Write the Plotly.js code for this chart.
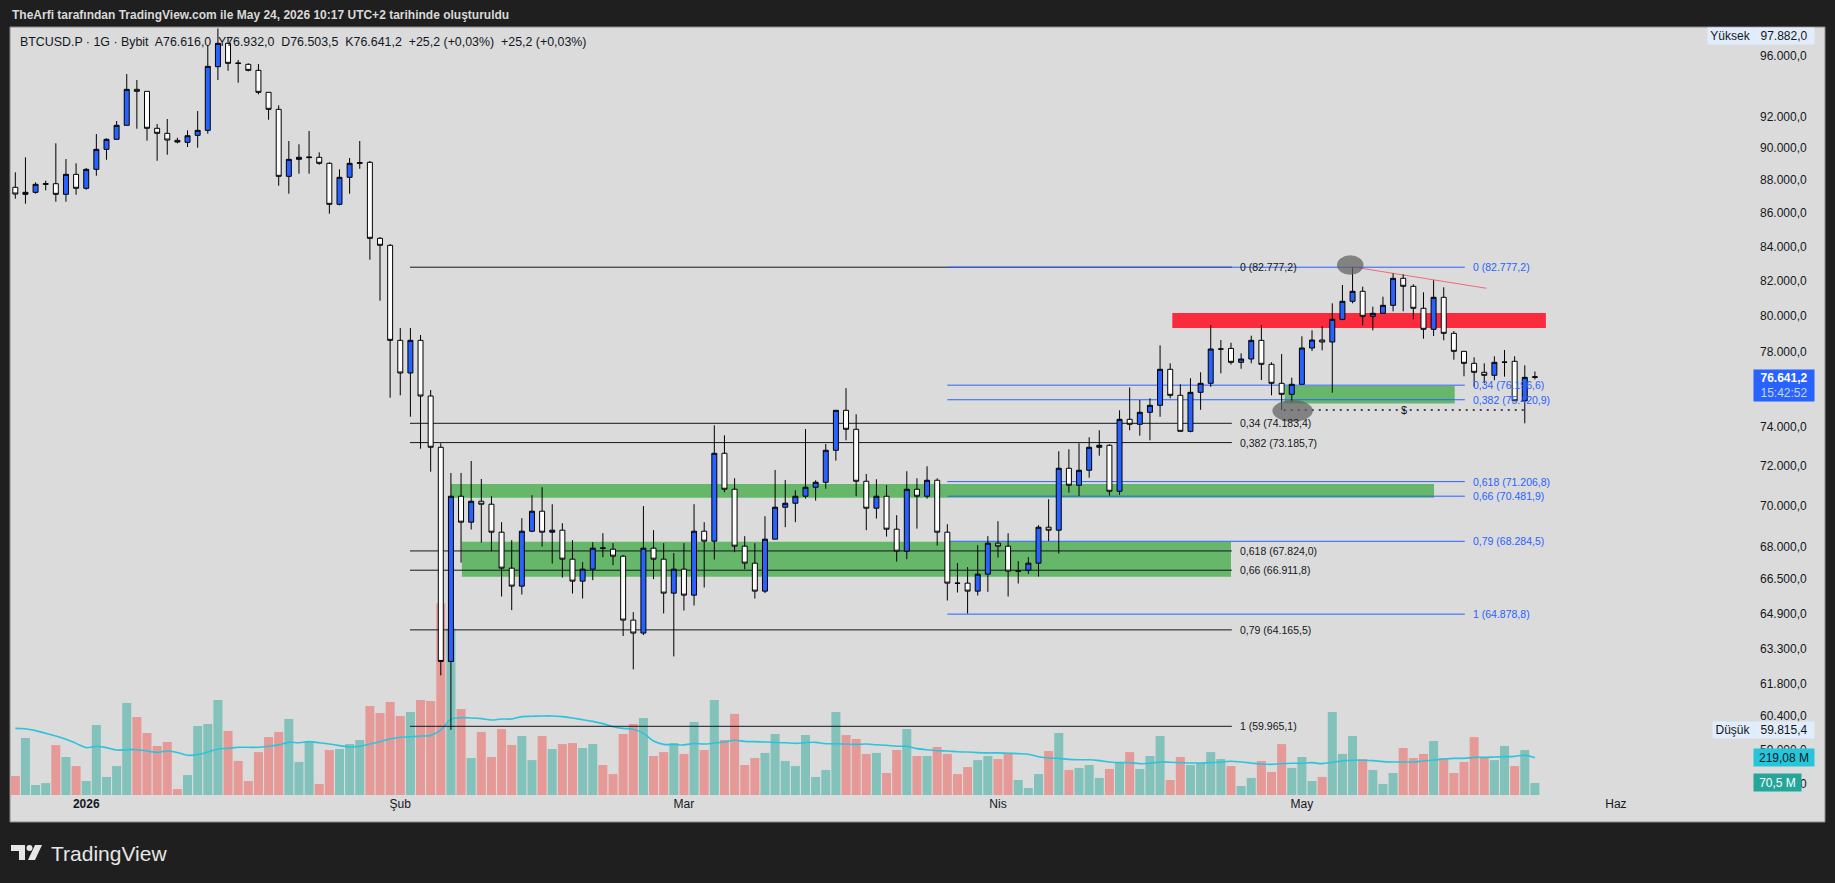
<!DOCTYPE html>
<html><head><meta charset="utf-8">
<script src="https://cdn.plot.ly/plotly-3.0.1.min.js"></script>
<style>html,body{margin:0;padding:0;background:#1f1f1f;overflow:hidden}#chart{width:1835px;height:883px}</style>
</head><body><div id="chart"></div>
<script>
// ---------------- DATA ----------------
const dates = [
'2025-12-25','2025-12-26','2025-12-27','2025-12-28','2025-12-29','2025-12-30','2025-12-31',
'2026-01-01','2026-01-02','2026-01-03','2026-01-04','2026-01-05','2026-01-06','2026-01-07','2026-01-08','2026-01-09','2026-01-10',
'2026-01-11','2026-01-12','2026-01-13','2026-01-14','2026-01-15','2026-01-16','2026-01-17','2026-01-18','2026-01-19','2026-01-20',
'2026-01-21','2026-01-22','2026-01-23','2026-01-24','2026-01-25','2026-01-26','2026-01-27','2026-01-28','2026-01-29','2026-01-30','2026-01-31',
'2026-02-01','2026-02-02','2026-02-03','2026-02-04','2026-02-05','2026-02-06','2026-02-07','2026-02-08','2026-02-09','2026-02-10',
'2026-02-11','2026-02-12','2026-02-13','2026-02-14','2026-02-15','2026-02-16','2026-02-17','2026-02-18','2026-02-19','2026-02-20',
'2026-02-21','2026-02-22','2026-02-23','2026-02-24','2026-02-25','2026-02-26','2026-02-27','2026-02-28',
'2026-03-01','2026-03-02','2026-03-03','2026-03-04','2026-03-05','2026-03-06','2026-03-07','2026-03-08','2026-03-09','2026-03-10',
'2026-03-11','2026-03-12','2026-03-13','2026-03-14','2026-03-15','2026-03-16','2026-03-17','2026-03-18','2026-03-19','2026-03-20',
'2026-03-21','2026-03-22','2026-03-23','2026-03-24','2026-03-25','2026-03-26','2026-03-27','2026-03-28','2026-03-29','2026-03-30','2026-03-31',
'2026-04-01','2026-04-02','2026-04-03','2026-04-04','2026-04-05','2026-04-06','2026-04-07','2026-04-08','2026-04-09','2026-04-10',
'2026-04-11','2026-04-12','2026-04-13','2026-04-14','2026-04-15','2026-04-16','2026-04-17','2026-04-18','2026-04-19','2026-04-20',
'2026-04-21','2026-04-22','2026-04-23','2026-04-24','2026-04-25','2026-04-26','2026-04-27','2026-04-28','2026-04-29','2026-04-30',
'2026-05-01','2026-05-02','2026-05-03','2026-05-04','2026-05-05','2026-05-06','2026-05-07','2026-05-08','2026-05-09','2026-05-10',
'2026-05-11','2026-05-12','2026-05-13','2026-05-14','2026-05-15','2026-05-16','2026-05-17','2026-05-18','2026-05-19','2026-05-20',
'2026-05-21','2026-05-22','2026-05-23','2026-05-24'];

const openP = [87555,87125,87247,87740,87776,87125,88357,
87494,88667,89922,90556,91451,93791,93659,91259,90938,90490,
90365,90810,91129,95293,96870,95540,95452,95050,93594,92483,
88233,89292,89400,89419,89042,86515,88172,89042,89105,84474,84060,
78634,76850,78634,75618,72945,62759,70480,69206,70233,70085,
68722,67008,66168,68770,69742,68722,68819,67433,66400,66961,
67960,67908,67574,64608,64022,67955,67433,65843,
66961,65751,68770,68290,72638,70826,68051,67244,65936,68386,
69938,70134,70480,70926,71175,72791,74863,73872,71225,69889,
70480,68867,67812,70826,70480,71275,68722,66307,66307,65936,66727,
68194,68051,66868,66915,67244,68963,68819,71877,71025,71776,
72945,73047,70727,74391,74131,74758,75127,77051,75656,73767,
75815,76296,78150,78190,77429,77610,78634,77321,76296,75709,
76243,78211,78651,78541,79803,80819,81388,79971,80140,80592,
82134,81675,80423,79245,81046,79022,78029,77375,76888,76726,
77429,77484,75366,76616.0];

const highP = [88481,89419,87862,87962,90302,89311,89042,
88748,90893,90618,91727,94805,94405,93659,91534,91856,90657,
91129,92373,96754,97882,97300,95741,95519,95472,93594,92744,
90448,90239,91085,89733,89105,88667,89374,90448,89186,84551,84136,
79317,79317,78929,75938,73149,71641,71641,72246,71339,70480,
69206,68338,69400,70529,70926,70085,69157,68338,67291,68242,
68674,68194,67622,64972,69993,68819,68194,67717,
68194,70085,69206,74079,73561,71374,68530,68194,69496,71792,
71290,70777,73885,71275,73113,74863,76040,74655,71591,71325,
71026,69547,71727,71374,71978,71374,69108,67244,67055,68098,68530,
69254,68674,67338,67527,69060,70331,72740,72842,73149,73459,
73821,73098,74863,76077,75408,75497,78359,77375,76243,76567,
76888,79484,78651,78502,77920,78889,79484,77429,77882,76600,
78856,79190,79412,80705,81749,82777.2,81652,80513,81080,82423,
82365,81790,81331,82020,81617,79150,78046,77701,77375,77756,
78102,77756,77267,76932.0];

const lowP = [86856,86552,87162,87370,86673,86673,87100,
87407,88270,89267,90556,91451,91232,90467,89205,89582,90302,
90068,90023,90913,94405,95022,94227,94985,93462,91811,87653,
87162,88394,88394,88955,85946,86455,87162,88705,83214,80853,75529,
75656,74527,72871,71706,62145,59815.4,67272,68848,68223,67812,
65686,65062,65778,68722,68031,67225,66568,65825,65594,66447,
67527,67150,63888,62409,63932,66493,64908,62981,
65045,65273,66103,67414,70678,67765,66961,65594,65843,68386,
68963,69206,70360,70262,70856,72262,73303,70480,68819,69383,
68511,67320,67433,68896,70360,68079,65502,65871,64908,65732,65903,
67508,65686,66288,66741,66615,68290,67698,70658,70494,71405,
72516,70513,70544,73821,73541,73303,74527,75497,73767,73715,
74889,76110,76834,77305,77082,77375,76473,75656,74880,75300,
76243,78046,78085,75794,79750,80705,79467,79189,80140,80253,
80253,79803,78723,78870,78634,77570,76672,76110,76296,76457,
76654,75366,74183,76503.5];

const closeP = [87143,87247,87740,87776,87125,88357,87494,
88667,89922,90556,91451,93791,93659,91259,90938,90511,90384,
90784,91129,95318,96870,95519,95519,95050,93594,92483,88233,
89292,89419,89430,89042,86515,88172,89042,89080,84474,84060,78634,
76850,78634,75618,72945,62759,70480,69206,70233,70085,68722,
67008,66168,68770,69742,68722,68819,67433,66400,66961,67955,
67955,67574,64608,64022,67955,67433,65843,66961,
65751,68770,68290,72638,70826,68051,67244,65936,68386,69938,
70134,70480,70926,71175,72791,74863,73872,71225,69889,70480,
68867,67812,70826,70480,71275,68722,66307,66300,65936,66727,68194,
68051,66868,66880,67244,68963,68819,71877,71025,71776,72945,
73047,70727,74391,74131,74758,75127,77051,75656,73767,75815,
76296,78157,78157,77429,77610,78634,77321,76296,75709,76243,
78211,78651,78541,79803,80819,81388,79971,80140,80592,82134,
81675,80423,79245,81046,79022,78029,77375,76888,76726,77429,
77440,75366,76616,76641.2];

// volume in millions
const volumeM = [111.5,334.6,58.7,70,293,223,170,
82,411,106,170,540,458,364,288,311,35,
117,405,417,558,376,200,82,252,340,370,
446,194,317,65,264,270,299,323,523,481,546,
464,487,558,552,1125,978,505,217,370,223,
387,294,346,205,346,270,299,305,276,299,
176,123,358,417,452,229,252,305,
241,429,264,558,323,476,176,217,247,358,
200,170,352,106,147,487,352,329,241,247,
129,264,387,229,229,282,241,123,164,205,229,
211,247,88,41,123,258,364,147,159,176,
100,153,188,252,153,229,346,88,223,176,
188,252,211,170,53,100,200,135,299,159,
223,82,106,487,241,346,211,147,65,129,
276,217,241,317,217,129,194,340,223,205,
288,170,264,70.5];

// volume moving average (millions)
const volumeMA_M = [391,389,378,362,346,327,303,
278,286,278,264,266,266,258,250,258,249,
233,237,252,270,274,280,280,280,286,294,
309,307,313,307,299,290,282,286,299,313,329,
339,341,346,350,382,444,454,452,448,440,
446,446,460,462,464,464,460,452,442,432,
419,401,391,386,362,317,297,296,
294,303,299,305,311,321,315,313,311,309,
307,303,307,309,301,301,299,297,299,295,
292,286,286,272,266,260,258,254,252,249,247,
247,245,243,239,225,217,215,209,207,207,
202,194,190,190,184,186,194,192,190,188,
188,190,194,198,194,188,182,180,184,186,
186,190,184,192,200,204,204,202,196,194,
194,194,200,205,211,215,215,221,221,223,
225,227,233,219.08];

const xTickVals = ['2026-01-01','2026-02-01','2026-03-01','2026-04-01','2026-05-01','2026-06-01'];
const xTickText = ['<b>2026</b>','Şub','Mar','Nis','May','Haz'];
const priceTicks = [96000,92000,90000,88000,86000,84000,82000,80000,78000,74000,72000,70000,68000,66500,64900,63300,61800,60400,59000,57600];

// Fibonacci drawings (log-scale retracements)
const fibLevels = [0,0.34,0.382,0.618,0.66,0.79,1];
const blackFibPrices = [82777.2,74183.4,73185.7,67824.0,66911.8,64165.5,59965.1];
const blueFibPrices = [82777.2,76196.6,75420.9,71206.8,70481.9,68284.5,64878.8];
const blackFibSpan = ['2026-02-01 23:00','2026-04-24 02:00'];
const blueFibSpan = ['2026-03-27 00:00','2026-05-17 02:00'];

// zones [startDate, endDate, upperPrice, lowerPrice]
const greenZones = [
  ['2026-02-06 00:00','2026-05-14 01:00',71090,70410],
  ['2026-02-07 02:00','2026-04-24 00:00',68257,66601],
  ['2026-04-29 07:00','2026-05-16 02:00',76156,75227]
];
const redZone = ['2026-04-18 05:00','2026-05-25 02:00',80157,79317];
const trendLine = {x:['2026-05-06 05:00','2026-05-19 05:00'], y:[82777.2,81561]};
const dottedLine = {x:['2026-04-29 05:00','2026-05-23 00:00'], y:[74880,74880]};
const dollarMark = {x:'2026-05-11 02:00', y:74880};
const highlightEllipses = [
  ['2026-05-04 11:00','2026-05-07 02:00',83470,82340],
  ['2026-04-28 02:00','2026-05-02 02:00',75408,74267]
];

const lastPrice = 76641.2, hiPrice = 97882.0, loPrice = 59815.4;
const volMALast = 219.08, volLast = 70.5;

// ---------------- LAYOUT HELPERS ----------------
const W=1835,H=883,ML=10,MR=138,MT=28,MB=88,PW=W-ML-MR,PH=H-MT-MB;
const px2x = X => (X-ML)/PW;
const px2y = Y => (H-MB-Y)/PH;
const FONT = 'Liberation Sans, Arial, sans-serif';
const INK = '#131722';
function fmtTR(v, dec){
  const s = v.toFixed(dec); const parts = s.split('.');
  const ip = parts[0].replace(/\B(?=(\d{3})+(?!\d))/g,'.');
  return parts.length>1 ? ip+','+parts[1] : ip;
}
const fmtLevel = l => String(l).replace('.',',');
const yLo = 4.756945, yHi = 4.990866;   // log10 price range of the pane
const volMax = 4502;                    // volume axis top (millions)

// ---------------- TRACES ----------------
const volColors = closeP.map((c,i)=> c>=openP[i] ? '#82c2bb' : '#e69a98');

function levelTrace(prices, span, color){
  const xs=[], ys=[];
  prices.forEach(p=>{ xs.push(span[0],span[1],null); ys.push(p,p,null); });
  return {type:'scatter',mode:'lines',x:xs,y:ys,xaxis:'x',yaxis:'y2',
          line:{color:color,width:1},hoverinfo:'skip',showlegend:false};
}

const traces = [
  {type:'bar',x:dates,y:volumeM,xaxis:'x',yaxis:'y',marker:{color:volColors,line:{width:0}},hoverinfo:'skip',showlegend:false},
  {type:'scatter',mode:'lines',x:dates,y:volumeMA_M,xaxis:'x',yaxis:'y',line:{color:'#2bc4db',width:1.6,shape:'spline'},hoverinfo:'skip',showlegend:false},
  levelTrace(blackFibPrices, blackFibSpan, INK),
  levelTrace(blueFibPrices, blueFibSpan, '#2962ff'),
  {type:'scatter',mode:'lines',x:trendLine.x,y:trendLine.y,xaxis:'x',yaxis:'y2',line:{color:'rgba(242,70,85,0.75)',width:1},hoverinfo:'skip',showlegend:false},
  {type:'scatter',mode:'lines',x:dottedLine.x,y:dottedLine.y,xaxis:'x',yaxis:'y2',line:{color:INK,width:1.6,dash:'2px,5px'},hoverinfo:'skip',showlegend:false},
  {type:'candlestick',x:dates,open:openP,high:highP,low:lowP,close:closeP,xaxis:'x',yaxis:'y3',
   increasing:{fillcolor:'#2962ff',line:{color:'#000000',width:1}},
   decreasing:{fillcolor:'#ffffff',line:{color:'#000000',width:1}},
   whiskerwidth:0,hoverinfo:'skip',showlegend:false}
];

// ---------------- SHAPES ----------------
const shapes = [
  {type:'rect',xref:'paper',yref:'paper',x0:px2x(10),x1:px2x(1825),y0:px2y(822),y1:px2y(27),
   fillcolor:'#dbdbdb',line:{color:'#8a8a8a',width:1},layer:'below'}
];
greenZones.forEach(z=>shapes.push({type:'rect',xref:'x',yref:'y3',x0:z[0],x1:z[1],y0:z[3],y1:z[2],
  fillcolor:'rgba(76,175,80,0.82)',line:{width:0},layer:'below'}));
shapes.push({type:'rect',xref:'x',yref:'y3',x0:redZone[0],x1:redZone[1],y0:redZone[3],y1:redZone[2],
  fillcolor:'#f92b3c',line:{width:0},layer:'below'});
highlightEllipses.forEach(e=>shapes.push({type:'circle',xref:'x',yref:'y3',x0:e[0],x1:e[1],y0:e[3],y1:e[2],
  fillcolor:'rgba(95,95,95,0.72)',line:{width:0},layer:'above'}));
// TradingView logo mark
const P = (X,Y)=> px2x(X).toFixed(5)+','+px2y(Y).toFixed(5);
shapes.push({type:'path',xref:'paper',yref:'paper',path:'M'+P(11,845)+' L'+P(25,845)+' L'+P(25,860)+' L'+P(19,860)+' L'+P(19,851)+' L'+P(11,851)+' Z',fillcolor:'#e6e6e6',line:{width:0}});
shapes.push({type:'circle',xref:'paper',yref:'paper',x0:px2x(26.5),x1:px2x(32.5),y0:px2y(851),y1:px2y(845),fillcolor:'#e6e6e6',line:{width:0}});
shapes.push({type:'path',xref:'paper',yref:'paper',path:'M'+P(35,845)+' L'+P(42,845)+' L'+P(35,860)+' L'+P(28,860)+' Z',fillcolor:'#e6e6e6',line:{width:0}});

// ---------------- ANNOTATIONS ----------------
const ann = [];
ann.push({xref:'paper',yref:'paper',x:px2x(10),y:px2y(15),xanchor:'left',yanchor:'middle',showarrow:false,
  text:'<b>TheArfi tarafından TradingView.com ile May 24, 2026 10:17 UTC+2 tarihinde oluşturuldu</b>',
  font:{family:FONT,size:12,color:'#d9d9d9'}});
ann.push({xref:'paper',yref:'paper',x:px2x(18),y:px2y(41.7),xanchor:'left',yanchor:'middle',showarrow:false,
  text:'BTCUSD.P · 1G · Bybit  A'+fmtTR(openP[openP.length-1],1)+'  Y'+fmtTR(highP[highP.length-1],1)+'  D'+fmtTR(lowP[lowP.length-1],1)+'  K'+fmtTR(closeP[closeP.length-1],1)+'  +25,2 (+0,03%)  +25,2 (+0,03%)',
  font:{family:FONT,size:12.4,color:INK}});
fibLevels.forEach((l,i)=>{
  ann.push({xref:'x',yref:'y3',x:blackFibSpan[1],y:Math.log10(blackFibPrices[i]),xanchor:'left',yanchor:'middle',xshift:6,showarrow:false,
    text:fmtLevel(l)+' ('+fmtTR(blackFibPrices[i],1)+')',font:{family:FONT,size:10.5,color:INK}});
  ann.push({xref:'x',yref:'y3',x:blueFibSpan[1],y:Math.log10(blueFibPrices[i]),xanchor:'left',yanchor:'middle',xshift:6,showarrow:false,
    text:fmtLevel(l)+' ('+fmtTR(blueFibPrices[i],1)+')',font:{family:FONT,size:10.5,color:'#2962ff'}});
});
ann.push({xref:'x',yref:'y3',x:dollarMark.x,y:Math.log10(dollarMark.y),showarrow:false,text:'$',font:{family:FONT,size:11,color:INK}});
// price scale labels
function box(xc,w,yref,y,text,bg,color,h,extra){
  return Object.assign({xref:'paper',yref:yref,x:px2x(xc),y:y,xanchor:'center',yanchor:'middle',showarrow:false,
    text:text,bgcolor:bg,width:w,height:h||16,borderpad:0,font:{family:FONT,size:12,color:color}},extra||{});
}
ann.push(box(1730.5,45,'paper',px2y(36),'Yüksek','#e2edfb',INK));
ann.push(box(1784,60,'paper',px2y(36),fmtTR(hiPrice,1),'#e2edfb',INK));
ann.push(box(1733,40,'y3',Math.log10(loPrice),'Düşük','#e2edfb',INK));
ann.push(box(1784,60,'y3',Math.log10(loPrice),fmtTR(loPrice,1),'#e2edfb',INK));
ann.push(box(1784,60,'y3',Math.log10(lastPrice),'<b>'+fmtTR(lastPrice,1)+'</b><br><span style="color:#c8d5ff">15:42:52</span>','#2962ff','#ffffff',31,{yanchor:'top',yshift:8}));
ann.push(box(1784,60,'y',volMALast,fmtTR(volMALast,2)+' M','#26c6da',INK,17));
ann.push(box(1777.5,47,'y',volLast,fmtTR(volLast,1)+' M','#26a69a','#ffffff',17));
ann.push({xref:'paper',yref:'paper',x:px2x(49),y:px2y(853),xanchor:'left',yanchor:'middle',showarrow:false,
  text:'TradingView',font:{family:FONT,size:21,color:'#e6e6e6'}});

// ---------------- LAYOUT ----------------
const layout = {
  width:W,height:H,margin:{l:ML,r:MR,t:MT,b:MB},
  paper_bgcolor:'#1f1f1f',plot_bgcolor:'rgba(0,0,0,0)',
  font:{family:FONT,color:INK,size:12},
  showlegend:false,hovermode:false,bargap:0.11,dragmode:false,
  xaxis:{type:'date',range:['2025-12-24 11:26','2026-06-09 00:00'],tickmode:'array',tickvals:xTickVals,ticktext:xTickText,
         showgrid:false,zeroline:false,showline:false,ticks:'',tickfont:{family:FONT,size:12,color:INK},
         rangeslider:{visible:false},fixedrange:true},
  yaxis:{range:[0,volMax],visible:false,fixedrange:true},
  yaxis2:{overlaying:'y',type:'log',range:[yLo,yHi],visible:false,fixedrange:true},
  yaxis3:{overlaying:'y',type:'log',range:[yLo,yHi],side:'right',tickmode:'array',tickvals:priceTicks,
          ticktext:priceTicks.map(v=>fmtTR(v,1)),showgrid:false,zeroline:false,showline:false,ticks:'',
          tickfont:{family:FONT,size:12,color:INK},ticklabelstandoff:62,fixedrange:true},
  shapes:shapes,annotations:ann
};
Plotly.newPlot('chart',traces,layout,{displayModeBar:false,staticPlot:true});
</script></body></html>
